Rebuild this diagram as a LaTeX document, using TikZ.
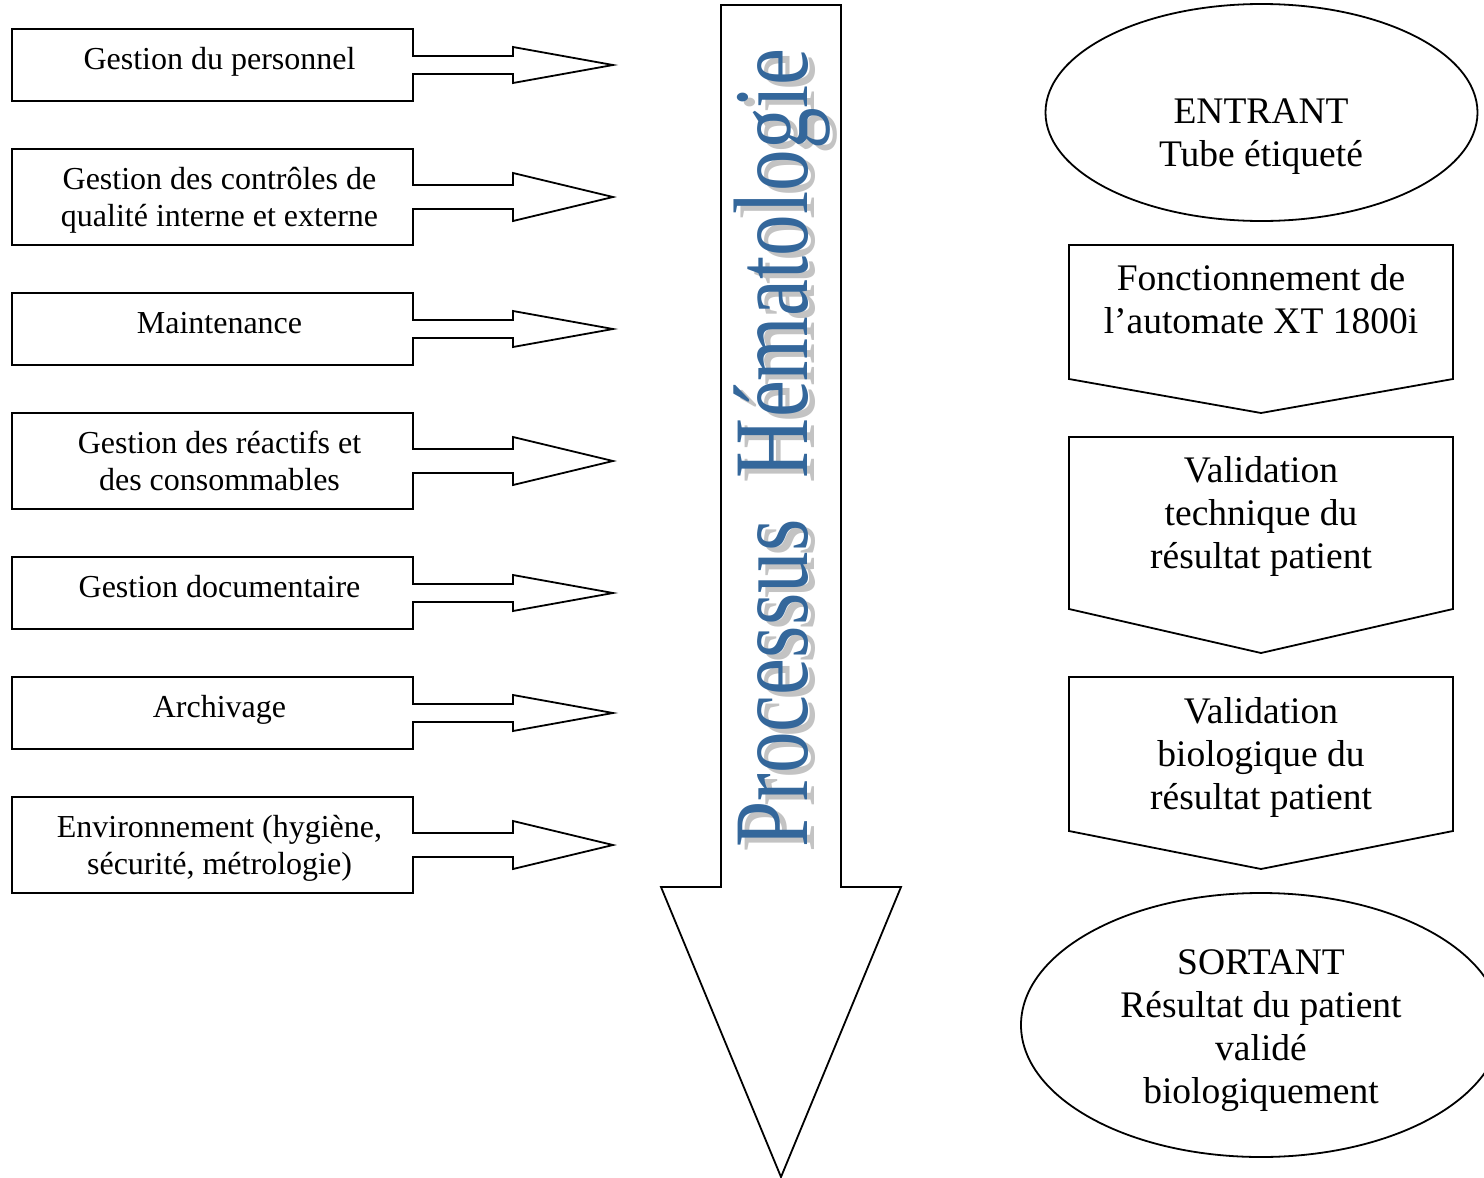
\documentclass[tikz,border=0pt]{standalone}
\usepackage{fontspec}
\setmainfont{Liberation Serif}
\definecolor{wablue}{RGB}{52,103,155}
\definecolor{washadow}{RGB}{195,195,195}
\newcommand\callout[2]{% #1 centre y, #2 half height of box
  \draw[shapeline] (12,#1-#2) -- (413,#1-#2) -- (413,#1-#2/4) -- (513,#1-#2/4)
    -- (513,#1-#2/2) -- (613,#1) -- (513,#1+#2/2) -- (513,#1+#2/4)
    -- (413,#1+#2/4) -- (413,#1+#2) -- (12,#1+#2) -- cycle;}
\newcommand\chevron[3]{% #1 top, #2 shoulder, #3 tip
  \draw[shapeline] (1069,#1) -- (1453,#1) -- (1453,#2) -- (1261,#3) -- (1069,#2) -- cycle;}
\begin{document}
\begin{tikzpicture}[x=1pt,y=-1pt,
  shapeline/.style={line width=1.8pt, line join=miter},
  lefttext/.style={font=\fontsize{32}{37}\selectfont, align=center, inner sep=0pt, anchor=base},
  righttext/.style={font=\fontsize{37.5}{43}\selectfont, align=center, inner sep=0pt, anchor=base},
  bigtext/.style={rotate=90, anchor=base west, inner sep=0pt}]
\useasboundingbox (0,0) rectangle (1484,1178);

% left callouts
\callout{65}{36}
\callout{197}{48}
\callout{329}{36}
\callout{461}{48}
\callout{593}{36}
\callout{713}{36}
\callout{845}{48}
% anchor = baseline of the last line
\node[lefttext] (l1) at (219.5,69.5) {Gestion du personnel};
\node[lefttext] (l2) at (219.5,226.5) {Gestion des contrôles de\\qualité interne et externe};
\node[lefttext] (l3) at (219.5,333.5) {Maintenance};
\node[lefttext] (l4) at (219.5,490.5) {Gestion des réactifs et\\des consommables};
\node[lefttext] (l5) at (219.5,597.5) {Gestion documentaire};
\node[lefttext] (l6) at (219.5,717.5) {Archivage};
\node[lefttext] (l7) at (219.5,874.5) {Environnement (hygiène,\\sécurité, métrologie)};

% central big arrow
\draw[shapeline] (721,5) -- (841,5) -- (841,887) -- (901,887) -- (781,1177)
  -- (661,887) -- (721,887) -- cycle;
\node[bigtext, text=washadow] (shadow) at (814,853)
  {\scalebox{0.785}[1]{\fontsize{106}{106}\selectfont Processus\ \ Hématologie}};
\node[bigtext, text=wablue] (title) at (807,848)
  {\scalebox{0.785}[1]{\fontsize{106}{106}\selectfont Processus\ \ Hématologie}};

% right column
\draw[shapeline] (1261.5,112.5) ellipse [x radius=216, y radius=108.5];
\node[righttext] (e1) at (1261,166) {ENTRANT\\Tube étiqueté};
\chevron{245}{379}{413}
\node[righttext] (p1) at (1261,333) {Fonctionnement de\\l’automate XT 1800i};
\chevron{437}{609}{653}
\node[righttext] (p2) at (1261,568) {Validation\\technique du\\résultat patient};
\chevron{677}{831}{869}
\node[righttext] (p3) at (1261,809) {Validation\\biologique du\\résultat patient};
\draw[shapeline] (1261,1025) ellipse [x radius=240, y radius=132];
\node[righttext] (e2) at (1261,1103) {SORTANT\\Résultat du patient\\validé\\biologiquement};
\end{tikzpicture}
\end{document}
